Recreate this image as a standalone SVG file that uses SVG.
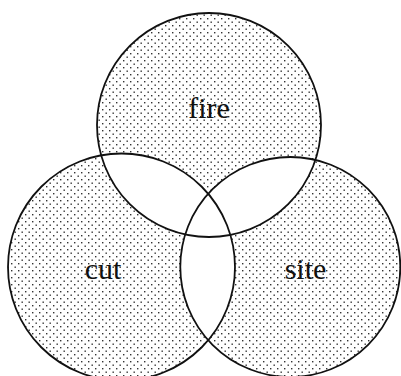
<svg xmlns="http://www.w3.org/2000/svg" width="401" height="376" viewBox="0 0 401 376">
  <style>
    .ring { fill: none; stroke: #111; stroke-width: 1.8; }
    .lbl { font-family: "Liberation Serif", "Times New Roman", serif; font-size: 30px; fill: #111; text-anchor: middle; }
    .dotted { fill: url(#dots); }
    .blank { fill: #fff; }
  </style>
  <defs>
    <pattern id="dots" patternUnits="userSpaceOnUse" width="7" height="7">
      <rect width="7" height="7" fill="#fff"/>
      <rect x="0.5" y="0.5" width="1.4" height="1.4" fill="#333"/>
      <rect x="4" y="4" width="1.4" height="1.4" fill="#333"/>
    </pattern>
    <clipPath id="clipTop"><circle cx="209" cy="125" r="112"/></clipPath>
    <clipPath id="clipLeft"><circle cx="121.5" cy="267" r="113.5"/></clipPath>
  </defs>
  <rect width="401" height="376" fill="#fff"/>
  <g id="shading">
    <circle class="dotted" cx="209" cy="125" r="112"/>
    <circle class="dotted" cx="121.5" cy="267" r="113.5"/>
    <circle class="dotted" cx="290.3" cy="267" r="110"/>
    <circle class="blank" cx="121.5" cy="267" r="113.5" clip-path="url(#clipTop)"/>
    <circle class="blank" cx="290.3" cy="267" r="110" clip-path="url(#clipTop)"/>
    <circle class="blank" cx="290.3" cy="267" r="110" clip-path="url(#clipLeft)"/>
  </g>
  <g id="fire">
    <circle class="ring" cx="209" cy="125" r="112"/>
    <text class="lbl" x="209" y="118">fire</text>
  </g>
  <g id="cut">
    <circle class="ring" cx="121.5" cy="267" r="113.5"/>
    <text class="lbl" x="103" y="279">cut</text>
  </g>
  <g id="site">
    <circle class="ring" cx="290.3" cy="267" r="110"/>
    <text class="lbl" x="305.5" y="279">site</text>
  </g>
</svg>
